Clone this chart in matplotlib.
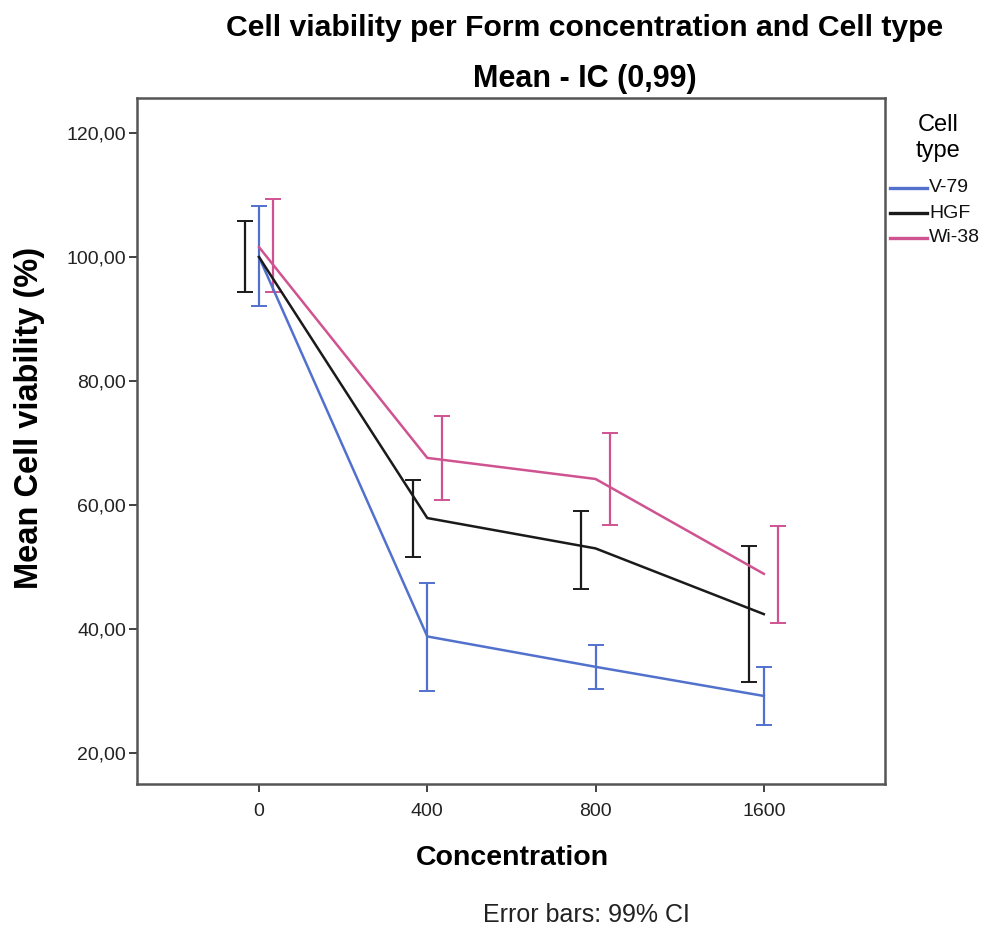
import numpy as np
import matplotlib
matplotlib.use("Agg")
import matplotlib.pyplot as plt
from matplotlib.lines import Line2D

# data
concentrations = ["0", "400", "800", "1600"]
cell_types = ["V-79", "HGF", "Wi-38"]

v79_mean = [100.0, 38.8, 33.9, 29.2]
v79_low = [92.1, 30.0, 30.4, 24.5]
v79_high = [108.2, 47.5, 37.4, 33.9]

hgf_mean = [100.0, 57.9, 53.0, 42.4]
hgf_low = [94.3, 51.6, 46.5, 31.4]
hgf_high = [105.8, 64.1, 59.1, 53.4]

wi38_mean = [101.6, 67.6, 64.2, 48.9]
wi38_low = [94.4, 60.8, 56.8, 41.0]
wi38_high = [109.3, 74.4, 71.6, 56.6]

colors = ["#5271cc", "#1a1a1a", "#cf5390"]
dodge = [0.0, -0.086, 0.086]   # SPSS shifts the error bars sideways

plt.rcParams["font.family"] = ["Liberation Sans", "DejaVu Sans"]

fig = plt.figure(figsize=(9.9, 9.36), dpi=100)
ax = fig.add_axes([137 / 990, 1 - 784 / 936, (885 - 137) / 990, (784 - 98) / 936])

x = np.arange(len(concentrations))
series = [
    (v79_mean, v79_low, v79_high),
    (hgf_mean, hgf_low, hgf_high),
    (wi38_mean, wi38_low, wi38_high),
]

for (mean, low, high), col, off in zip(series, colors, dodge):
    mean = np.array(mean)
    low = np.array(low)
    high = np.array(high)
    ax.plot(x, mean, color=col, lw=1.8, zorder=3)
    yerr = np.vstack([mean - low, high - mean])
    ax.errorbar(x + off, mean, yerr=yerr, fmt="none", ecolor=col,
                elinewidth=1.6, capsize=6, capthick=1.4, zorder=2)

ax.set_xlim(-0.725, 3.72)
ax.set_ylim(15.0, 125.65)
ax.set_xticks(x)
ax.set_xticklabels(concentrations, fontsize=14, color="#222222")
ax.set_yticks([20, 40, 60, 80, 100, 120])
ax.set_yticklabels(["20,00", "40,00", "60,00", "80,00", "100,00", "120,00"],
                   fontsize=14, color="#222222")
ax.tick_params(axis="both", direction="out", length=6, width=1.3, color="#333333")
ax.tick_params(axis="x", pad=8)
ax.tick_params(axis="y", pad=2)

for s in ax.spines.values():
    s.set_color("#555555")
    s.set_linewidth(1.8)

# titles and labels
fig.text(585 / 990, 1 - 28 / 936, "Cell viability per Form concentration and Cell type",
         ha="center", va="center", fontsize=21.7, fontweight="bold")
fig.text(585 / 990, 1 - 79 / 936, "Mean - IC (0,99)",
         ha="center", va="center", fontsize=22, fontweight="bold")
fig.text(512 / 990, 1 - 858 / 936, "Concentration",
         ha="center", va="center", fontsize=20.5, fontweight="bold")
fig.text(30 / 990, 1 - 418 / 936, "Mean Cell viability (%)", rotation=90,
         ha="center", va="center", fontsize=23.5, fontweight="bold")
fig.text(586 / 990, 1 - 915 / 936, "Error bars: 99% CI",
         ha="center", va="center", fontsize=18, color="#222222")

# legend at the right of the frame
fig.text(938 / 990, 1 - 125 / 936, "Cell", ha="center", va="center", fontsize=17)
fig.text(938 / 990, 1 - 151 / 936, "type", ha="center", va="center", fontsize=17)
for i, (name, col) in enumerate(zip(cell_types, colors)):
    ly = 1 - (188 + 25 * i) / 936
    fig.add_artist(Line2D([890 / 990, 927 / 990], [ly, ly], color=col, lw=2.4))
    fig.text(929 / 990, ly, name, ha="left", va="center", fontsize=14, color="#111111")

fig.savefig("out.png", dpi=100)
